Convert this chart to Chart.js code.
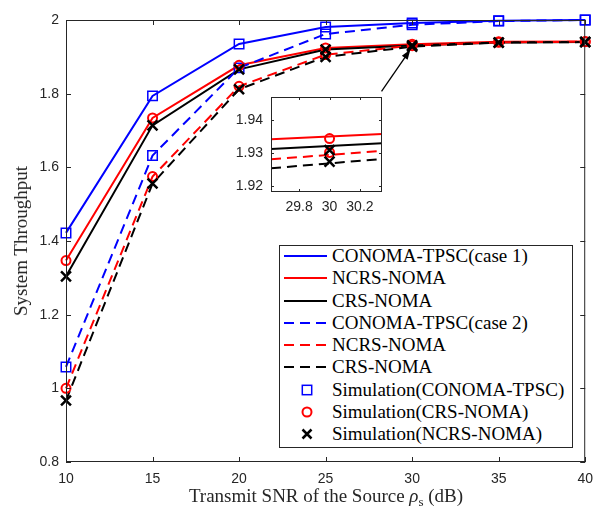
<!DOCTYPE html>
<html><head><meta charset="utf-8">
<script src="https://cdn.jsdelivr.net/npm/chart.js@4.4.1/dist/chart.umd.min.js"></script>
<style>
html,body{margin:0;padding:0;background:#fff;}
#wrap{position:relative;width:602px;height:509px;overflow:hidden;background:#fff;}
#main{position:absolute;left:0;top:0;}
#inset{position:absolute;left:210px;top:72px;}
.title{position:absolute;font-family:"Liberation Serif","Times New Roman",serif;font-size:19px;color:#262626;white-space:nowrap;line-height:20px;}
#xt{left:326px;top:499px;transform:translate(-50%,-50%);}
#yt{left:21px;top:241px;transform:translate(-50%,-50%) rotate(-90deg);}
#legend{position:absolute;left:279px;top:245px;width:292px;height:201px;border:1px solid #262626;background:#fff;}
.row{position:absolute;left:0;height:22px;width:100%;}
.row svg{position:absolute;left:4px;top:0;}
.row span{position:absolute;left:52px;top:0;line-height:22px;font-family:"Liberation Serif","Times New Roman",serif;font-size:19px;color:#000;white-space:nowrap;}
</style></head>
<body>
<div id="wrap">
<canvas id="main" width="602" height="509"></canvas>
<canvas id="inset" width="190" height="150"></canvas>
<div id="legend"></div>
<div class="title" id="xt">Transmit SNR of the Source <i>ρ</i><sub style="font-size:13px">s</sub> (dB)</div>
<div class="title" id="yt">System Throughput</div>
</div>
<script>
// ---- data ----
const snr = [10, 15, 20, 25, 30, 35, 40];
const conomaCase1 = [1.422, 1.794, 1.935, 1.981, 1.992, 1.998, 2.0];
const ncrsCase1   = [1.347, 1.734, 1.877, 1.924, 1.9345, 1.941, 1.9415];
const crsCase1    = [1.304, 1.714, 1.866, 1.920, 1.931, 1.939, 1.9405];
const conomaCase2 = [1.058, 1.632, 1.870, 1.962, 1.987, 1.997, 2.0];
const ncrsCase2   = [1.000, 1.575, 1.820, 1.906, 1.9303, 1.9395, 1.941];
const crsCase2    = [0.967, 1.556, 1.812, 1.900, 1.9275, 1.9385, 1.940];
const xTicks = [10, 15, 20, 25, 30, 35, 40];
const yTicks = [0.8, 1, 1.2, 1.4, 1.6, 1.8, 2];
// inset (zoom around 30 dB)
const insetX = [29.615, 30.345];
const insetNcrs1 = [1.9343, 1.9359];
const insetCrs1  = [1.9313, 1.9331];
const insetNcrs2 = [1.9282, 1.9308];
const insetCrs2  = [1.9255, 1.9283];
const insetXTicks = [29.8, 30, 30.2];
const insetYTicks = [1.92, 1.93, 1.94];
const legendLabels = ['CONOMA-TPSC(case 1)','NCRS-NOMA','CRS-NOMA','CONOMA-TPSC(case 2)','NCRS-NOMA','CRS-NOMA','Simulation(CONOMA-TPSC)','Simulation(CRS-NOMA)','Simulation(NCRS-NOMA)'];

const BLUE='#0000ff', RED='#ff0000', BLACK='#000000';
const DASH=[10,6];
const pts = (xs, ys) => xs.map((x,i)=>({x, y: ys[i]}));

function lineDs(xs, ys, color, dashed){
  return {data: pts(xs, ys), borderColor: color, borderWidth: 2, borderDash: dashed?DASH:[],
    pointRadius: 0, fill: false, tension: 0, clip: false};
}
function markDs(list, style, color, r, bw){
  let d = [];
  list.forEach(([xs, ys]) => { d = d.concat(pts(xs, ys)); });
  return {data: d, showLine: false, pointStyle: style, pointRadius: r, pointBorderColor: color,
    pointBackgroundColor: 'rgba(0,0,0,0)', pointBorderWidth: bw, borderColor: color, clip: false};
}

const boxTicks = {
  id: 'boxTicks',
  beforeDatasetsDraw(chart, args, opts){
    if (opts.fill){
      const a = chart.chartArea, ctx = chart.ctx;
      ctx.save(); ctx.fillStyle = '#fff'; ctx.fillRect(a.left, a.top, a.right-a.left, a.bottom-a.top); ctx.restore();
    }
  },
  afterDatasetsDraw(chart, args, opts){
    const {ctx, chartArea: a} = chart; const x = chart.scales.x, y = chart.scales.y;
    const len = opts.len || 5;
    ctx.save(); ctx.strokeStyle = '#262626'; ctx.lineWidth = 1; ctx.setLineDash([]);
    ctx.beginPath();
    x.ticks.forEach(t => { const px = Math.round(x.getPixelForValue(t.value)) + 0.5;
      ctx.moveTo(px, a.bottom); ctx.lineTo(px, a.bottom - len); ctx.moveTo(px, a.top); ctx.lineTo(px, a.top + len); });
    y.ticks.forEach(t => { const py = Math.round(y.getPixelForValue(t.value)) + 0.5;
      ctx.moveTo(a.left, py); ctx.lineTo(a.left + len, py); ctx.moveTo(a.right, py); ctx.lineTo(a.right - len, py); });
    ctx.stroke();
    ctx.strokeRect(a.left + 0.5, a.top + 0.5, a.right - a.left - 1, a.bottom - a.top - 1);
    ctx.restore();
  }
};

const arrowPlugin = {
  id: 'arrow',
  afterDraw(chart, args, opts){
    if (!opts.from) return;
    const {ctx} = chart; const x = chart.scales.x, y = chart.scales.y;
    const x0 = x.getPixelForValue(opts.from[0]), y0 = y.getPixelForValue(opts.from[1]);
    const x1 = x.getPixelForValue(opts.to[0]), y1 = y.getPixelForValue(opts.to[1]);
    const ang = Math.atan2(y1 - y0, x1 - x0), hl = 10, hw = 3.5;
    ctx.save(); ctx.strokeStyle = '#000'; ctx.fillStyle = '#000'; ctx.lineWidth = 1.3;
    ctx.beginPath(); ctx.moveTo(x0, y0); ctx.lineTo(x1 - Math.cos(ang)*hl*0.8, y1 - Math.sin(ang)*hl*0.8); ctx.stroke();
    ctx.beginPath(); ctx.moveTo(x1, y1);
    ctx.lineTo(x1 - Math.cos(ang)*hl - Math.sin(ang)*hw, y1 - Math.sin(ang)*hl + Math.cos(ang)*hw);
    ctx.lineTo(x1 - Math.cos(ang)*hl + Math.sin(ang)*hw, y1 - Math.sin(ang)*hl - Math.cos(ang)*hw);
    ctx.closePath(); ctx.fill();
    ctx.restore();
  }
};

const tickFont = {family: '"Liberation Sans", Arial, sans-serif', size: 14};
const fmt = v => String(Number(v.toFixed(3)));

function markerSets(){
  return [
    markDs([[snr, crsCase1],[snr, crsCase2]], 'crossRot', BLACK, 7, 2.5),
    markDs([[snr, ncrsCase1],[snr, ncrsCase2]], 'circle', RED, 4.5, 2),
    markDs([[snr, conomaCase1],[snr, conomaCase2]], 'rect', BLUE, 6.7, 1.5),
  ];
}

const mainDs = markerSets().concat([
  lineDs(snr, crsCase2, BLACK, true),
  lineDs(snr, ncrsCase2, RED, true),
  lineDs(snr, conomaCase2, BLUE, true),
  lineDs(snr, crsCase1, BLACK, false),
  lineDs(snr, ncrsCase1, RED, false),
  lineDs(snr, conomaCase1, BLUE, false),
]);

new Chart(document.getElementById('main'), {
  type: 'line',
  data: {datasets: mainDs},
  options: {
    responsive: false, animation: false, devicePixelRatio: 1,
    layout: {padding: {top: 20, right: 16, left: 0, bottom: 0}},
    plugins: {legend: {display: false}, tooltip: {enabled: false},
      boxTicks: {len: 5}, arrow: {from: [28.23, 1.806], to: [29.9, 1.9196]}},
    scales: {
      x: {type: 'linear', min: 10, max: 40,
        grid: {display: false, drawTicks: false}, border: {display: false},
        afterBuildTicks: s => { s.ticks = xTicks.map(v => ({value: v})); },
        afterFit: s => { s.height = 47; },
        ticks: {padding: 9, font: tickFont, color: '#262626', maxRotation: 0, autoSkip: false, callback: v => fmt(v)}},
      y: {type: 'linear', min: 0.8, max: 2,
        grid: {display: false, drawTicks: false}, border: {display: false},
        afterBuildTicks: s => { s.ticks = yTicks.map(v => ({value: v})); },
        afterFit: s => { s.width = 66; },
        ticks: {padding: 7, font: tickFont, color: '#262626', autoSkip: false, callback: v => fmt(v)}}
    }
  },
  plugins: [boxTicks, arrowPlugin]
});

const insetDs = [
  {...markDs([[snr, crsCase1],[snr, crsCase2]], 'crossRot', BLACK, 7, 2.5), clip: 0},
  {...markDs([[snr, ncrsCase1],[snr, ncrsCase2]], 'circle', RED, 4.5, 2), clip: 0},
  {...lineDs(insetX, insetCrs2, BLACK, true), clip: 0},
  {...lineDs(insetX, insetNcrs2, RED, true), clip: 0},
  {...lineDs(insetX, insetCrs1, BLACK, false), clip: 0},
  {...lineDs(insetX, insetNcrs1, RED, false), clip: 0},
];

// inset canvas at (210,72) 190x150 -> chart area (271,97)-(382,192)
new Chart(document.getElementById('inset'), {
  type: 'line',
  data: {datasets: insetDs},
  options: {
    responsive: false, animation: false, devicePixelRatio: 1,
    layout: {padding: {top: 25, right: 18, left: 0, bottom: 0}},
    plugins: {legend: {display: false}, tooltip: {enabled: false}, boxTicks: {len: 3, fill: true}},
    scales: {
      x: {type: 'linear', min: insetX[0], max: insetX[1],
        grid: {display: false, drawTicks: false}, border: {display: false},
        afterBuildTicks: s => { s.ticks = insetXTicks.map(v => ({value: v})); },
        afterFit: s => { s.height = 30; },
        ticks: {padding: 7, font: tickFont, color: '#262626', maxRotation: 0, autoSkip: false, callback: v => fmt(v)}},
      y: {type: 'linear', min: 1.9183, max: 1.9471,
        grid: {display: false, drawTicks: false}, border: {display: false},
        afterBuildTicks: s => { s.ticks = insetYTicks.map(v => ({value: v})); },
        afterFit: s => { s.width = 61; },
        ticks: {padding: 8, font: tickFont, color: '#262626', autoSkip: false, callback: v => fmt(v)}}
    }
  },
  plugins: [boxTicks]
});

// ---- legend (HTML) ----
const legendStyle = [
  {c: BLUE, d: false}, {c: RED, d: false}, {c: BLACK, d: false},
  {c: BLUE, d: true}, {c: RED, d: true}, {c: BLACK, d: true},
  {c: BLUE, m: 'sq'}, {c: RED, m: 'ci'}, {c: BLACK, m: 'x'}
];
const leg = document.getElementById('legend');
legendLabels.forEach((lab, i) => {
  const s = legendStyle[i];
  const row = document.createElement('div'); row.className = 'row';
  row.style.top = (-1 + 22.25 * i) + 'px';
  let g = '';
  if (!s.m) g = `<line x1="0" y1="11" x2="43" y2="11" stroke="${s.c}" stroke-width="2" ${s.d ? 'stroke-dasharray="10 6"' : ''}/>`;
  else if (s.m === 'sq') g = `<rect x="18.3" y="6.3" width="9.4" height="9.4" fill="none" stroke="${s.c}" stroke-width="1.5"/>`;
  else if (s.m === 'ci') g = `<circle cx="23" cy="11" r="4.5" fill="none" stroke="${s.c}" stroke-width="2"/>`;
  else g = `<path d="M18.5 6.5 L27.5 15.5 M27.5 6.5 L18.5 15.5" stroke="${s.c}" stroke-width="2.5"/>`;
  row.innerHTML = `<svg width="46" height="22">${g}</svg><span>${lab}</span>`;
  leg.appendChild(row);
});
</script>
</body></html>
